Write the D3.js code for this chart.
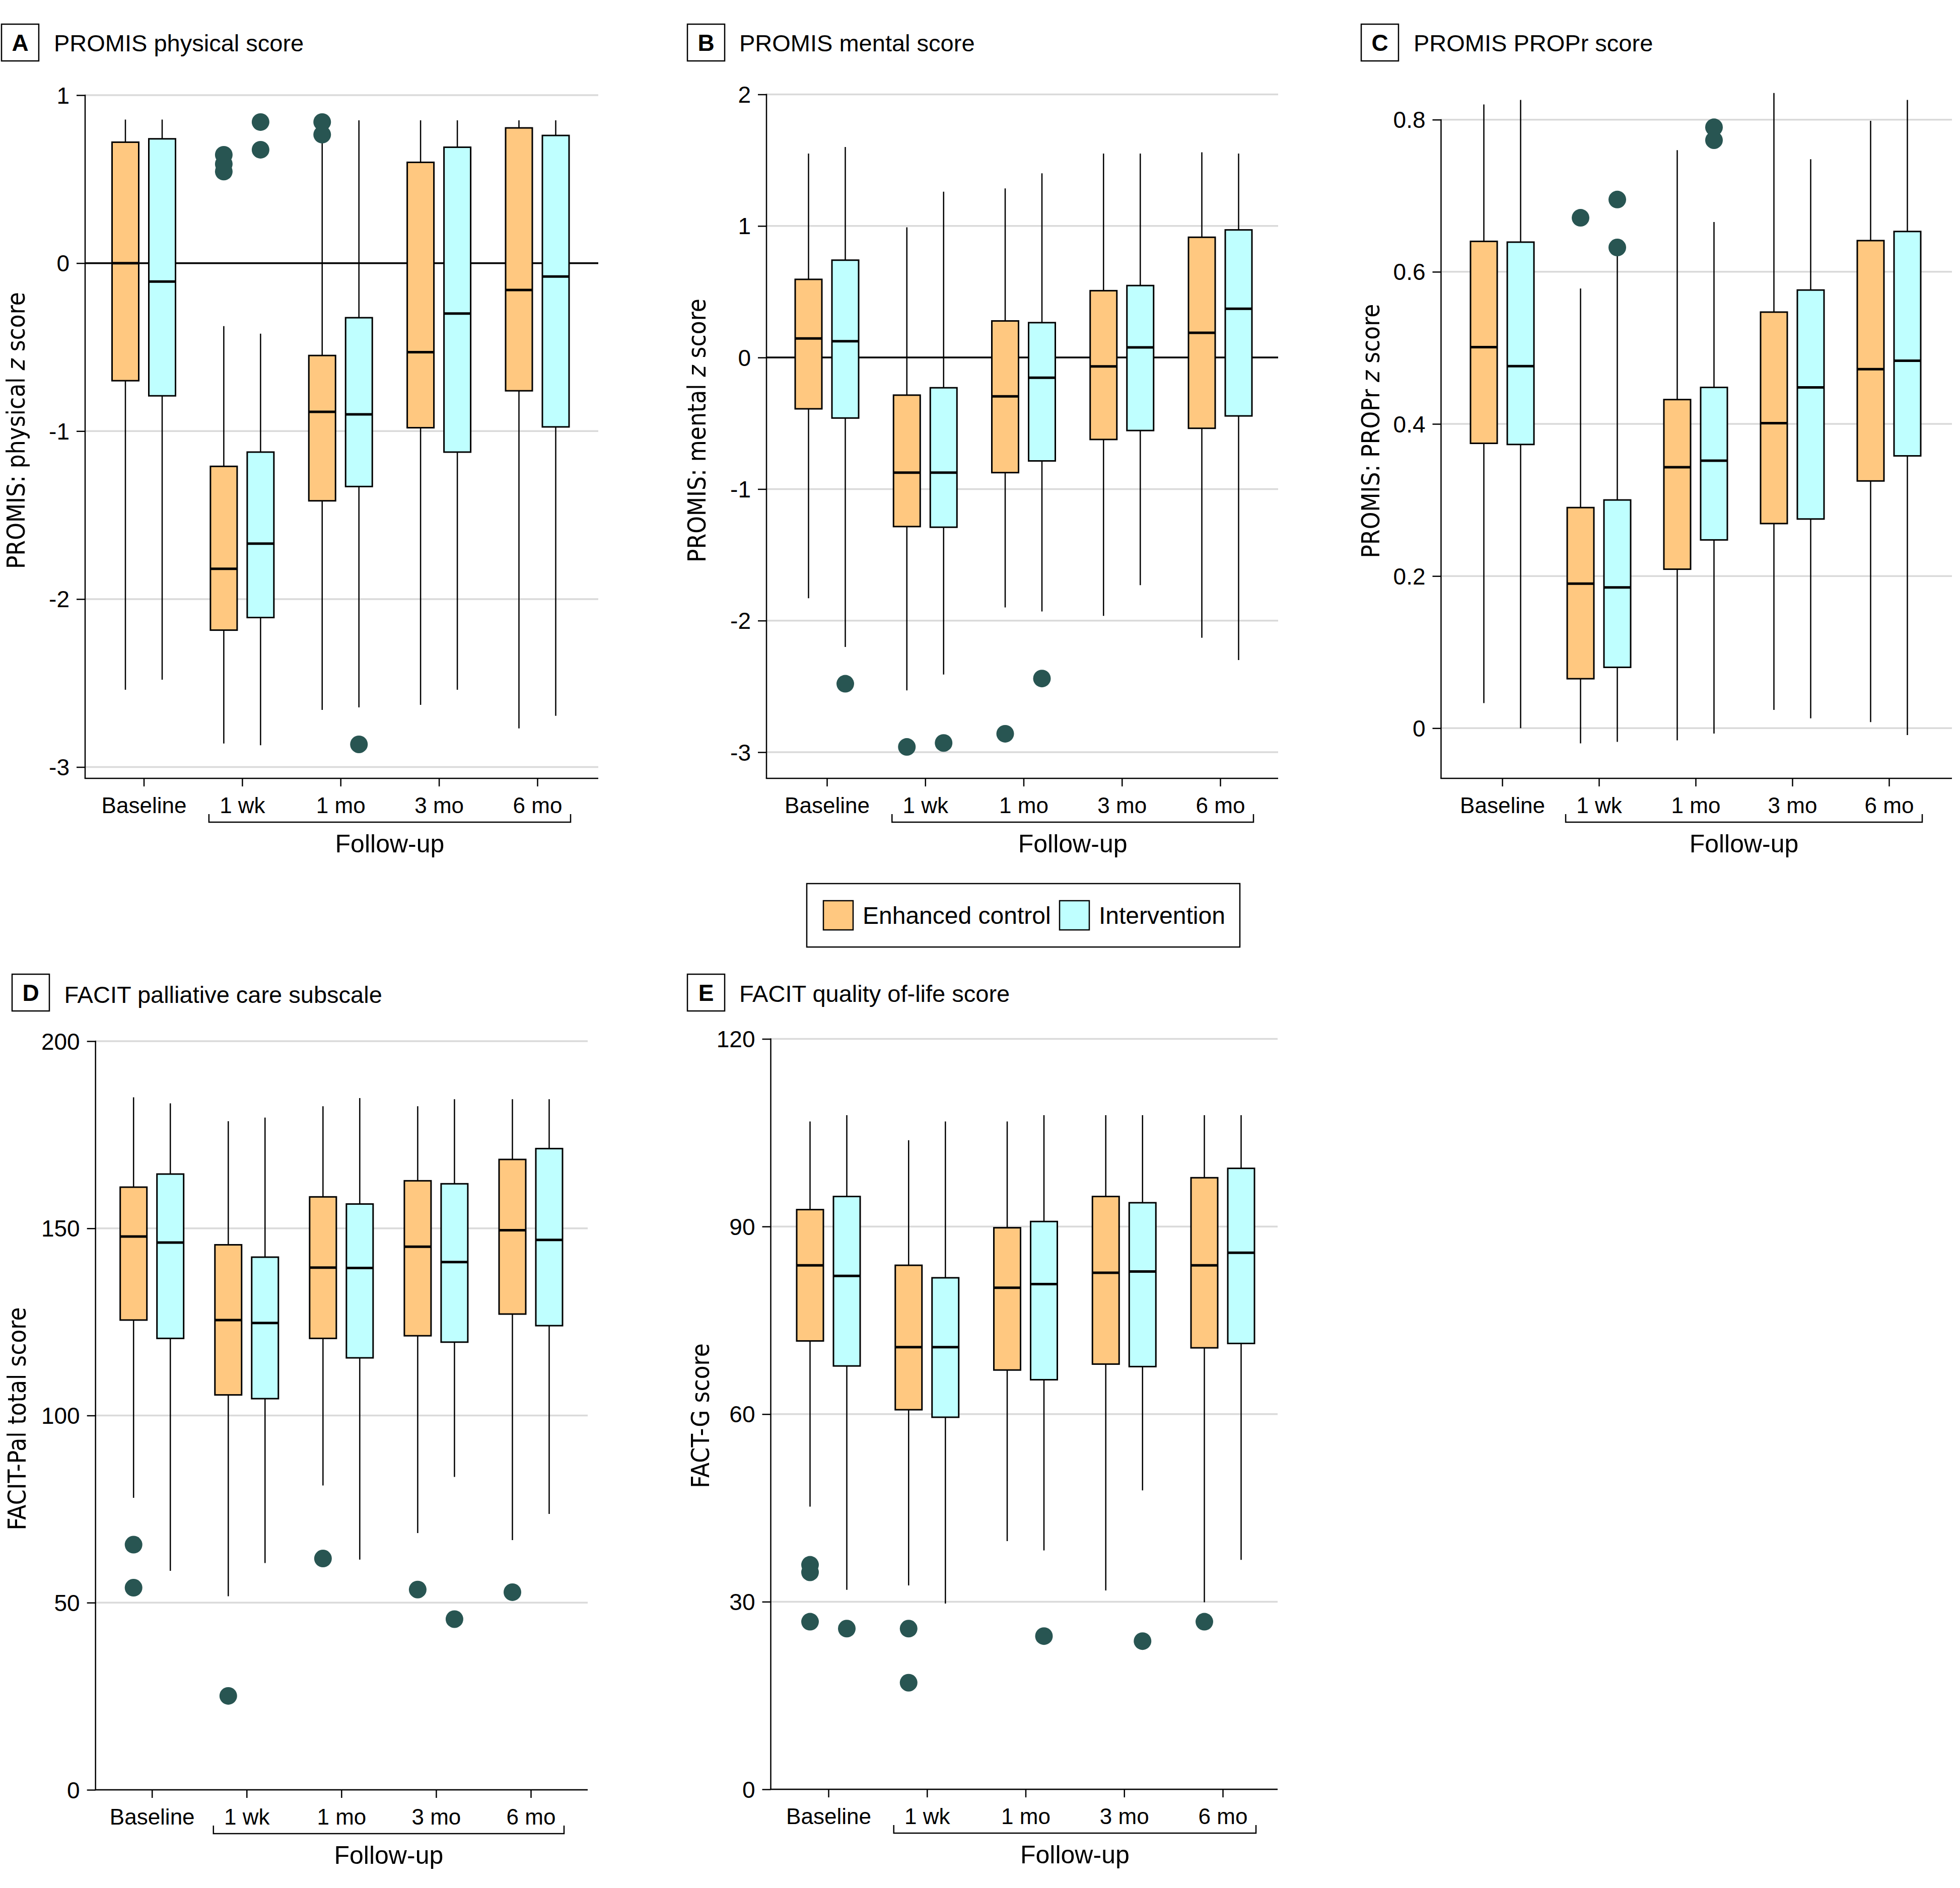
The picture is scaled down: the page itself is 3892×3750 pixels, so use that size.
<!DOCTYPE html>
<html><head><meta charset="utf-8">
<script src="https://cdn.jsdelivr.net/npm/d3@7"></script>
<style>body{margin:0;background:#fff}</style>
</head><body><svg id="chart" width="3892" height="3750"></svg>
<script>
// ---------------- DATA ----------------
const categories = ["Baseline", "1 wk", "1 mo", "3 mo", "6 mo"];
const groups = ["Enhanced control", "Intervention"];
const groupColors = ["#FFC880", "#BFFFFF"];
// each row: [lower whisker, Q1, median, Q3, upper whisker]
const physicalControl = [
  [-2.54, -0.70, 0.00, 0.72, 0.855],
  [-2.86, -2.185, -1.82, -1.21, -0.375],
  [-2.66, -1.415, -0.885, -0.55, 0.74],
  [-2.63, -0.98, -0.53, 0.60, 0.85],
  [-2.77, -0.76, -0.16, 0.805, 0.85]
];
const physicalIntervention = [
  [-2.48, -0.79, -0.11, 0.74, 0.855],
  [-2.87, -2.11, -1.67, -1.125, -0.42],
  [-2.645, -1.33, -0.90, -0.325, 0.85],
  [-2.54, -1.125, -0.30, 0.69, 0.85],
  [-2.695, -0.975, -0.08, 0.76, 0.85]
];
const physicalOutliers = [
  ["1 wk", 0, 0.645], ["1 wk", 0, 0.59], ["1 wk", 0, 0.545],
  ["1 wk", 1, 0.84], ["1 wk", 1, 0.675],
  ["1 mo", 0, 0.84], ["1 mo", 0, 0.765], ["1 mo", 1, -2.865]
];
const mentalControl = [
  [-1.83, -0.39, 0.145, 0.594, 1.55],
  [-2.53, -1.285, -0.875, -0.286, 0.99],
  [-1.90, -0.875, -0.295, 0.278, 1.285],
  [-1.964, -0.623, -0.068, 0.508, 1.55],
  [-2.13, -0.538, 0.188, 0.914, 1.56]
];
const mentalIntervention = [
  [-2.20, -0.46, 0.124, 0.74, 1.60],
  [-2.41, -1.29, -0.875, -0.23, 1.26],
  [-1.93, -0.786, -0.154, 0.265, 1.40],
  [-1.73, -0.555, 0.077, 0.547, 1.55],
  [-2.30, -0.444, 0.371, 0.97, 1.55]
];
const mentalOutliers = [
  ["Baseline", 1, -2.48], ["1 wk", 0, -2.96], ["1 wk", 1, -2.93],
  ["1 mo", 0, -2.86], ["1 mo", 1, -2.44]
];
const proprControl = [
  [0.033, 0.3745, 0.501, 0.64, 0.82],
  [-0.02, 0.065, 0.19, 0.29, 0.578],
  [-0.016, 0.209, 0.343, 0.432, 0.76],
  [0.024, 0.269, 0.401, 0.547, 0.835],
  [0.008, 0.325, 0.472, 0.641, 0.7985]
];
const proprIntervention = [
  [0.0, 0.373, 0.476, 0.639, 0.826],
  [-0.018, 0.08, 0.185, 0.30, 0.621],
  [-0.007, 0.2475, 0.3516, 0.448, 0.6655],
  [0.013, 0.275, 0.448, 0.576, 0.748],
  [-0.009, 0.358, 0.483, 0.653, 0.826]
];
const proprOutliers = [
  ["1 wk", 0, 0.671], ["1 wk", 1, 0.695], ["1 wk", 1, 0.632],
  ["1 mo", 1, 0.79], ["1 mo", 1, 0.773]
];
const palControl = [
  [78, 125.5, 147.8, 161, 185],
  [51.7, 105.5, 125.5, 145.6, 178.6],
  [81.3, 120.6, 139.5, 158.4, 182.6],
  [68.6, 121.3, 145.1, 162.7, 182.6],
  [66.7, 127.1, 149.5, 168.4, 184.5]
];
const palIntervention = [
  [58.5, 120.6, 146.2, 164.5, 183.4],
  [60.6, 104.5, 124.7, 142.3, 179.6],
  [61.5, 115.4, 139.4, 156.5, 184.8],
  [83.6, 119.6, 141, 161.9, 184.5],
  [73.7, 124, 146.9, 171.3, 184.5]
];
const palOutliers = [
  ["Baseline", 0, 65.5], ["Baseline", 0, 54], ["1 wk", 0, 25.1], ["1 mo", 0, 61.8],
  ["3 mo", 0, 53.5], ["3 mo", 1, 45.6], ["6 mo", 0, 52.8]
];
const factgControl = [
  [45.2, 71.7, 83.8, 92.7, 106.8],
  [32.6, 60.7, 70.7, 83.8, 103.8],
  [39.7, 67.05, 80.2, 89.8, 106.8],
  [31.8, 68, 82.6, 94.8, 107.8],
  [29.9, 70.6, 83.8, 97.8, 107.8]
];
const factgIntervention = [
  [31.9, 67.7, 82.1, 94.8, 107.8],
  [29.7, 59.5, 70.7, 81.8, 106.8],
  [38.2, 65.5, 80.8, 90.8, 107.8],
  [47.8, 67.6, 82.8, 93.8, 107.8],
  [36.7, 71.3, 85.8, 99.3, 107.8]
];
const factgOutliers = [
  ["Baseline", 0, 35.9], ["Baseline", 0, 34.7], ["Baseline", 0, 26.8], ["Baseline", 1, 25.7],
  ["1 wk", 0, 25.7], ["1 wk", 0, 17.05], ["1 mo", 1, 24.5], ["3 mo", 1, 23.7], ["6 mo", 0, 26.8]
];
const physicalTicks = [-3, -2, -1, 0, 1];
const mentalTicks = [-3, -2, -1, 0, 1, 2];
const proprTicks = [0, 0.2, 0.4, 0.6, 0.8];
const proprTickLabels = ["0", "0.2", "0.4", "0.6", "0.8"];
const palTicks = [0, 50, 100, 150, 200];
const factgTicks = [0, 30, 60, 90, 120];
const panelLetters = ["A", "B", "C", "D", "E"];
const panelTitles = ["PROMIS physical score", "PROMIS mental score", "PROMIS PROPr score",
  "FACIT palliative care subscale", "FACIT quality of-life score"];
const yLabels = [["PROMIS: physical ", "z", " score"], ["PROMIS: mental ", "z", " score"],
  ["PROMIS: PROPr ", "z", " score"], ["FACIT-Pal total score", "", ""], ["FACT-G score", "", ""]];
const followUpLabel = "Follow-up";

// ---------------- LAYOUT ----------------
const FONT = '"Liberation Sans", Arial, sans-serif';
const NARROW = '"DejaVu Sans Condensed", "Liberation Sans", sans-serif';
const svg = d3.select("#chart");
svg.append("rect").attr("width", 3892).attr("height", 3750).attr("fill", "#fff");

const panels = [
  { data: [physicalControl, physicalIntervention], out: physicalOutliers, ticks: physicalTicks, fmt: d => String(d),
    yRange: [1523.5, 189], axisX: 169, right: 1188, bottom: 1546, xRange: [285.5, 1067], zero: true,
    box: [3, 48], titleX: 107, titleY: 102, labX: 49, labY: 855 },
  { data: [mentalControl, mentalIntervention], out: mentalOutliers, ticks: mentalTicks, fmt: d => String(d),
    yRange: [1494, 187.5], axisX: 1522, right: 2538, bottom: 1546, xRange: [1642, 2423], zero: true,
    box: [1365, 48], titleX: 1468, titleY: 102, labX: 1401, labY: 855 },
  { data: [proprControl, proprIntervention], out: proprOutliers, ticks: proprTicks, fmt: (d, i) => proprTickLabels[i],
    yRange: [1446.3, 237.7], axisX: 2861.5, right: 3876, bottom: 1546, xRange: [2983, 3751], zero: false,
    box: [2703, 48], titleX: 2807, titleY: 102, labX: 2739, labY: 856 },
  { data: [palControl, palIntervention], out: palOutliers, ticks: palTicks, fmt: d => String(d),
    yRange: [3555, 2068], axisX: 189.7, right: 1167, bottom: 3555, xRange: [301.7, 1054], zero: false,
    box: [24, 1935], titleX: 127.5, titleY: 1992, labX: 51, labY: 2818 },
  { data: [factgControl, factgIntervention], out: factgOutliers, ticks: factgTicks, fmt: d => String(d),
    yRange: [3554, 2063.5], axisX: 1530.5, right: 2537, bottom: 3554, xRange: [1645, 2428], zero: false,
    box: [1365, 1935], titleX: 1468, titleY: 1990, labX: 1408, labY: 2812 }
];

panels.forEach((p, pi) => {
  const g = svg.append("g");
  const y = d3.scaleLinear().domain([p.ticks[0], p.ticks[p.ticks.length - 1]]).range(p.yRange);
  const x = d3.scalePoint().domain(categories).range(p.xRange);
  const yTopTick = y(p.ticks[p.ticks.length - 1]);

  // gridlines
  g.append("g").selectAll("line").data(p.ticks.filter(t => !(p.zero && t === 0))).join("line")
    .attr("x1", p.axisX).attr("x2", p.right)
    .attr("y1", d => y(d)).attr("y2", d => y(d))
    .attr("stroke", "#DADADA").attr("stroke-width", 3.5);
  if (p.zero) {
    g.append("line").attr("x1", p.axisX).attr("x2", p.right).attr("y1", y(0)).attr("y2", y(0))
      .attr("stroke", "#000").attr("stroke-width", 3.5);
  }

  // y axis
  const ya = g.append("g").attr("transform", `translate(${p.axisX},0)`)
    .call(d3.axisLeft(y).tickValues(p.ticks).tickSize(17).tickPadding(14).tickFormat(p.fmt));
  ya.select(".domain").remove();
  ya.selectAll(".tick line").attr("stroke", "#000").attr("stroke-width", 2.5);
  ya.selectAll(".tick text").attr("font-family", FONT).attr("font-size", 46).attr("fill", "#000").attr("dy", "0.35em");
  g.append("line").attr("x1", p.axisX).attr("x2", p.axisX).attr("y1", yTopTick - 1).attr("y2", p.bottom)
    .attr("stroke", "#000").attr("stroke-width", 2.5);

  // x axis
  const xa = g.append("g").attr("transform", `translate(0,${p.bottom})`)
    .call(d3.axisBottom(x).tickSize(16).tickSizeOuter(0));
  xa.select(".domain").remove();
  xa.selectAll(".tick line").attr("stroke", "#000").attr("stroke-width", 2.5);
  xa.selectAll(".tick text").attr("font-family", FONT).attr("font-size", 44).attr("fill", "#000")
    .attr("y", 69).attr("dy", null);
  g.append("line").attr("x1", p.axisX - 1.25).attr("x2", p.right).attr("y1", p.bottom).attr("y2", p.bottom)
    .attr("stroke", "#000").attr("stroke-width", 2.5);

  // follow-up bracket
  const bx1 = x(categories[1]) - 66, bx2 = x(categories[4]) + 66;
  g.append("path")
    .attr("d", `M${bx1},${p.bottom + 71}V${p.bottom + 87}H${bx2}V${p.bottom + 71}`)
    .attr("fill", "none").attr("stroke", "#000").attr("stroke-width", 2.5);
  g.append("text").attr("x", (bx1 + bx2) / 2).attr("y", p.bottom + 147)
    .attr("text-anchor", "middle").attr("font-family", FONT).attr("font-size", 50).text(followUpLabel);

  // boxes
  const off = [-36.5, 36.5], bw = 53;
  p.data.forEach((series, gi) => {
    const bg = g.append("g");
    const rows = series.map((s, ci) => ({ c: categories[ci], s }));
    bg.selectAll(".wh").data(rows).join("line")
      .attr("x1", d => x(d.c) + off[gi]).attr("x2", d => x(d.c) + off[gi])
      .attr("y1", d => y(d.s[0])).attr("y2", d => y(d.s[4]))
      .attr("stroke", "#000").attr("stroke-width", 2.5);
    bg.selectAll(".bx").data(rows).join("rect")
      .attr("x", d => x(d.c) + off[gi] - bw / 2).attr("width", bw)
      .attr("y", d => y(d.s[3])).attr("height", d => y(d.s[1]) - y(d.s[3]))
      .attr("fill", groupColors[gi]).attr("stroke", "#000").attr("stroke-width", 3);
    bg.selectAll(".md").data(rows).join("line")
      .attr("x1", d => x(d.c) + off[gi] - bw / 2).attr("x2", d => x(d.c) + off[gi] + bw / 2)
      .attr("y1", d => y(d.s[2])).attr("y2", d => y(d.s[2]))
      .attr("stroke", "#000").attr("stroke-width", 5);
  });
  g.append("g").selectAll("circle").data(p.out).join("circle")
    .attr("cx", d => x(d[0]) + off[d[1]]).attr("cy", d => y(d[2])).attr("r", 17.5)
    .attr("fill", "#285552");

  // title
  g.append("rect").attr("x", p.box[0]).attr("y", p.box[1]).attr("width", 74).attr("height", 73)
    .attr("fill", "none").attr("stroke", "#000").attr("stroke-width", 2.5);
  g.append("text").attr("x", p.box[0] + 37).attr("y", p.box[1] + 53).attr("text-anchor", "middle")
    .attr("font-family", FONT).attr("font-weight", "bold").attr("font-size", 46).text(panelLetters[pi]);
  g.append("text").attr("x", p.titleX).attr("y", p.titleY).attr("font-family", FONT)
    .attr("font-size", 47).text(panelTitles[pi]);

  // y label
  const yl = g.append("text").attr("transform", `translate(${p.labX},${p.labY}) rotate(-90)`)
    .attr("text-anchor", "middle").attr("font-family", NARROW).attr("font-size", 49);
  yl.append("tspan").text(yLabels[pi][0]);
  if (yLabels[pi][1]) yl.append("tspan").attr("font-style", "italic").text(yLabels[pi][1]);
  if (yLabels[pi][2]) yl.append("tspan").text(yLabels[pi][2]);
});

// legend
const lg = svg.append("g");
lg.append("rect").attr("x", 1602).attr("y", 1755).attr("width", 860).attr("height", 126)
  .attr("fill", "#fff").attr("stroke", "#000").attr("stroke-width", 2.5);
const legX = [[1635, 1713], [2104, 2182]];
groups.forEach((gname, i) => {
  lg.append("rect").attr("x", legX[i][0]).attr("y", 1789).attr("width", 59).attr("height", 58)
    .attr("fill", groupColors[i]).attr("stroke", "#000").attr("stroke-width", 2.5);
  lg.append("text").attr("x", legX[i][1]).attr("y", 1835).attr("font-family", FONT)
    .attr("font-size", 48).text(gname);
});
</script></body></html>
